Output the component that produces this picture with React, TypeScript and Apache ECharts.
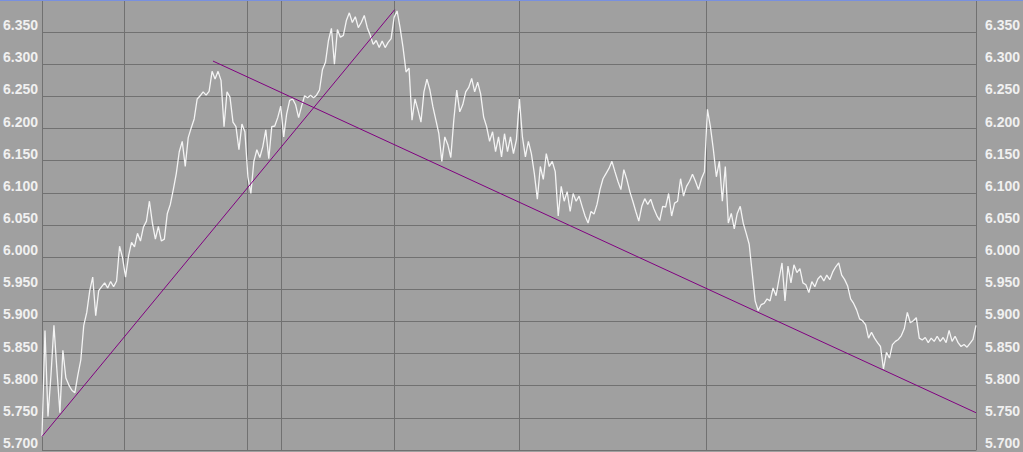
import React, { useEffect, useRef } from "react";
import * as echarts from "echarts";

// price samples (evenly spaced ticks)
const prices: number[] = [
  5.721, 5.886, 5.752, 5.816, 5.894, 5.824, 5.758, 5.855, 5.812, 5.801,
  5.793, 5.789, 5.816, 5.840, 5.894, 5.914, 5.948, 5.969, 5.909, 5.948,
  5.954, 5.960, 5.952, 5.962, 5.954, 5.963, 6.017, 5.999, 5.969, 6.002,
  6.023, 6.016, 6.037, 6.025, 6.047, 6.056, 6.087, 6.053, 6.028, 6.048,
  6.025, 6.028, 6.068, 6.082, 6.105, 6.130, 6.164, 6.180, 6.141, 6.186,
  6.201, 6.215, 6.246, 6.251, 6.257, 6.252, 6.258, 6.289, 6.277, 6.289,
  6.275, 6.203, 6.257, 6.249, 6.210, 6.203, 6.167, 6.207, 6.195, 6.125,
  6.099, 6.149, 6.167, 6.155, 6.172, 6.198, 6.153, 6.203, 6.204, 6.217,
  6.235, 6.187, 6.223, 6.244, 6.246, 6.237, 6.217, 6.235, 6.251, 6.248,
  6.252, 6.248, 6.252, 6.260, 6.292, 6.303, 6.337, 6.356, 6.300, 6.354,
  6.342, 6.345, 6.368, 6.380, 6.365, 6.374, 6.357, 6.365, 6.376, 6.357,
  6.345, 6.331, 6.337, 6.326, 6.336, 6.326, 6.334, 6.340, 6.373, 6.383,
  6.357, 6.326, 6.288, 6.294, 6.213, 6.246, 6.229, 6.210, 6.257, 6.277,
  6.260, 6.234, 6.213, 6.192, 6.149, 6.187, 6.175, 6.155, 6.213, 6.260,
  6.226, 6.237, 6.257, 6.264, 6.278, 6.257, 6.272, 6.254, 6.218, 6.203,
  6.180, 6.195, 6.164, 6.187, 6.156, 6.192, 6.164, 6.187, 6.161, 6.183,
  6.246, 6.187, 6.156, 6.180, 6.161, 6.130, 6.090, 6.141, 6.121, 6.161,
  6.141, 6.149, 6.133, 6.064, 6.110, 6.087, 6.102, 6.071, 6.099, 6.087,
  6.095, 6.079, 6.064, 6.053, 6.071, 6.067, 6.082, 6.105, 6.122, 6.130,
  6.138, 6.149, 6.133, 6.118, 6.105, 6.136, 6.121, 6.102, 6.087, 6.071,
  6.056, 6.079, 6.091, 6.082, 6.090, 6.076, 6.065, 6.057, 6.079, 6.078,
  6.099, 6.064, 6.084, 6.087, 6.122, 6.095, 6.110, 6.118, 6.129, 6.118,
  6.105, 6.122, 6.133, 6.230, 6.203, 6.167, 6.125, 6.149, 6.087, 6.141,
  6.053, 6.068, 6.044, 6.068, 6.079, 6.053, 6.037, 6.020, 5.976, 5.932,
  5.917, 5.926, 5.928, 5.935, 5.932, 5.952, 5.940, 5.966, 5.991, 5.932,
  5.986, 5.960, 5.988, 5.976, 5.982, 5.960, 5.957, 5.945, 5.962, 5.954,
  5.966, 5.971, 5.963, 5.972, 5.965, 5.977, 5.985, 5.991, 5.972, 5.965,
  5.955, 5.935, 5.928, 5.918, 5.904, 5.901, 5.895, 5.874, 5.883, 5.874,
  5.867, 5.861, 5.826, 5.852, 5.843, 5.864, 5.869, 5.872, 5.878, 5.889,
  5.914, 5.898, 5.901, 5.906, 5.874, 5.871, 5.875, 5.867, 5.874, 5.869,
  5.877, 5.869, 5.875, 5.867, 5.886, 5.869, 5.877, 5.867, 5.861, 5.864,
  5.860, 5.866, 5.872, 5.894,
];

// session separators (tick index positions)
const sessionBreaks: number[] = [27.6, 68.9, 80.3, 118.2, 159.8, 222.6];

// trend lines: [tick index, price]
const supportLine: number[][] = [
  [0, 5.721],
  [118.2, 6.385],
];
const resistanceLine: number[][] = [
  [57.3, 6.305],
  [313, 5.758],
];

const yMin = 5.7;
const yMax = 6.4;
const yStep = 0.05;

export default function App() {
  const ref = useRef<HTMLDivElement>(null);

  useEffect(() => {
    document.body.style.margin = "0";
    const chart = echarts.init(ref.current as HTMLDivElement, null, {
      renderer: "svg",
    });
    const gridColor = "#717171";
    const labelStyle = {
      color: "#f0f0f0",
      fontFamily: "Liberation Sans",
      fontWeight: "bold" as const,
      fontSize: 14,
      verticalAlign: "bottom" as const,
      formatter: (v: number) => v.toFixed(3),
      showMaxLabel: false,
      showMinLabel: true,
    };
    chart.setOption({
      animation: false,
      backgroundColor: "#a0a0a0",
      grid: { left: 40, right: 43, top: -3, bottom: 2, containLabel: false },
      xAxis: {
        type: "value",
        min: 0,
        max: prices.length - 1,
        show: false,
        splitLine: { show: false },
      },
      yAxis: [
        {
          type: "value",
          position: "left",
          min: yMin,
          max: yMax,
          interval: yStep,
          axisLine: { show: true, onZero: false, lineStyle: { color: gridColor, width: 1 } },
          axisTick: { show: false },
          splitLine: { show: true, lineStyle: { color: gridColor, width: 1 } },
          axisLabel: { ...labelStyle, align: "left", margin: 39 },
        },
        {
          type: "value",
          position: "right",
          min: yMin,
          max: yMax,
          interval: yStep,
          axisLine: { show: true, onZero: false, lineStyle: { color: gridColor, width: 1 } },
          axisTick: { show: false },
          splitLine: { show: false },
          axisLabel: { ...labelStyle, align: "left", margin: 9 },
        },
      ],
      series: [
        {
          type: "line",
          data: prices.map((v, i) => [i, v]),
          showSymbol: false,
          symbol: "none",
          z: 3,
          lineStyle: { color: "#f4f4f4", width: 1.3 },
          markLine: {
            silent: true,
            z: 1,
            symbol: ["none", "none"],
            label: { show: false },
            lineStyle: { color: gridColor, width: 1, type: "solid" },
            data: sessionBreaks.map((x) => ({ xAxis: x })),
          },
        },
        {
          type: "line",
          data: supportLine,
          showSymbol: false,
          symbol: "none",
          z: 4,
          lineStyle: { color: "#800080", width: 1 },
        },
        {
          type: "line",
          data: resistanceLine,
          showSymbol: false,
          symbol: "none",
          z: 4,
          lineStyle: { color: "#800080", width: 1 },
        },
      ],
      graphic: [
        {
          type: "rect",
          left: 0,
          top: 0,
          z: 100,
          shape: { width: 1023, height: 1 },
          style: { fill: "#7890e0" },
        },
      ],
    });
    return () => chart.dispose();
  }, []);

  return <div ref={ref} style={{ width: 1023, height: 452 }} />;
}
